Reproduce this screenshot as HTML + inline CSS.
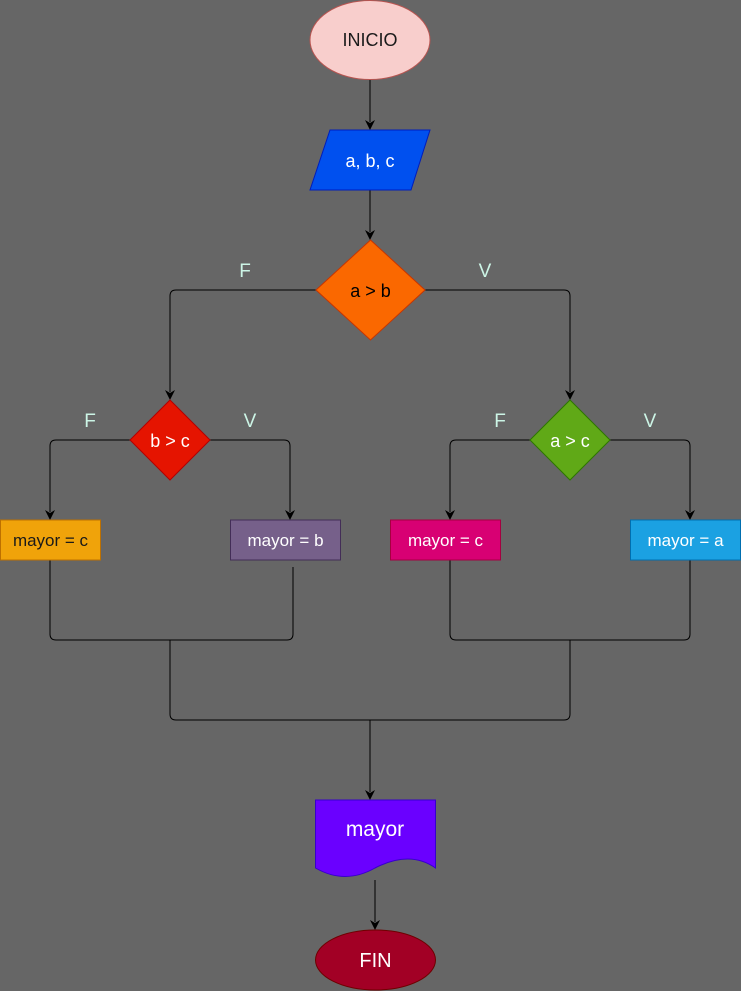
<!DOCTYPE html>
<html><head><meta charset="utf-8"><style>
html,body{margin:0;padding:0;background:#666666;}
svg{display:block;}
text{font-family:"Liberation Sans",Helvetica,Arial,sans-serif;}
</style></head><body>
<svg width="741" height="991" viewBox="0 0 741 991" xmlns="http://www.w3.org/2000/svg">
<rect width="741" height="991" fill="#666666"/>
<g fill="none" stroke="#000" stroke-width="1">
<line x1="370" y1="80" x2="370" y2="122"/>
<line x1="370" y1="190" x2="370" y2="232"/>
<path d="M316,290 H176 Q170,290 170,296 V392"/>
<path d="M425,290 H564 Q570,290 570,296 V392"/>
<path d="M131,440 H56 Q50,440 50,446 V512"/>
<path d="M210,440 H284 Q290,440 290,446 V512"/>
<path d="M531,440 H456 Q450,440 450,446 V512"/>
<path d="M610,440 H684 Q690,440 690,446 V512"/>
<path d="M50,560 V634 Q50,640 56,640 H287 Q293,640 293,634 V567"/>
<path d="M450,560 V634 Q450,640 456,640 H684 Q690,640 690,634 V560"/>
<path d="M170,640 V714 Q170,720 176,720 H564 Q570,720 570,714 V640"/>
<line x1="370" y1="720" x2="370" y2="792"/>
<line x1="375" y1="880" x2="375" y2="922"/>
</g>
<g fill="#000">
<path d="M365,120 L370,130 L375,120 L370,123Z"/>
<path d="M365,230 L370,240 L375,230 L370,233Z"/>
<path d="M165,390 L170,400 L175,390 L170,393Z"/>
<path d="M565,390 L570,400 L575,390 L570,393Z"/>
<path d="M45,510 L50,520 L55,510 L50,513Z"/>
<path d="M285,510 L290,520 L295,510 L290,513Z"/>
<path d="M445,510 L450,520 L455,510 L450,513Z"/>
<path d="M685,510 L690,520 L695,510 L690,513Z"/>
<path d="M365,790 L370,800 L375,790 L370,793Z"/>
<path d="M370,920 L375,930 L380,920 L375,923Z"/>
</g>
<ellipse cx="370" cy="40" rx="60" ry="39.5" fill="#f8cecc" stroke="#b85450"/>
<text x="370" y="46" font-size="18" text-anchor="middle" fill="#1a1a1a">INICIO</text>
<polygon points="330,130 430,130 411,190 310,190" fill="#0050ef" stroke="#001DBC"/>
<text x="370" y="167" font-size="18" text-anchor="middle" fill="#fff">a, b, c</text>
<polygon points="370.5,240 425,290 370.5,340 316,290" fill="#fa6800" stroke="#C73500"/>
<text x="370.5" y="297" font-size="18" text-anchor="middle" fill="#000">a &gt; b</text>
<polygon points="170,400 210,440 170,480 130,440" fill="#e51400" stroke="#B20000"/>
<text x="170" y="447" font-size="18" text-anchor="middle" fill="#fff">b &gt; c</text>
<polygon points="570,400 610,440 570,480 530,440" fill="#60a917" stroke="#2D7600"/>
<text x="570" y="447" font-size="18" text-anchor="middle" fill="#fff">a &gt; c</text>
<rect x="0.5" y="520" width="100" height="40" fill="#f0a30a" stroke="#BD7000"/>
<text x="50.5" y="546" font-size="17" text-anchor="middle" fill="#1a1a1a">mayor = c</text>
<rect x="230.5" y="520" width="110" height="40" fill="#76608a" stroke="#432D57"/>
<text x="285.5" y="546" font-size="17" text-anchor="middle" fill="#fff">mayor = b</text>
<rect x="390.5" y="520" width="110" height="40" fill="#d80073" stroke="#A50040"/>
<text x="445.5" y="546" font-size="17" text-anchor="middle" fill="#fff">mayor = c</text>
<rect x="630.5" y="520" width="110" height="40" fill="#1ba1e2" stroke="#006EAF"/>
<text x="685.5" y="546" font-size="17" text-anchor="middle" fill="#fff">mayor = a</text>
<path d="M315.5,800 H435.5 V868 Q410,850 375,868 Q345,885 315.5,868 Z" fill="#6a00ff" stroke="#3700CC"/>
<text x="375" y="836" font-size="21" text-anchor="middle" fill="#fff">mayor</text>
<ellipse cx="375.5" cy="960" rx="60" ry="30" fill="#a20025" stroke="#6F0000"/>
<text x="375.5" y="967" font-size="20" text-anchor="middle" fill="#fff">FIN</text>
<g font-size="19" fill="#ccf5e6" text-anchor="middle">
<text x="245" y="277">F</text>
<text x="485" y="277">V</text>
<text x="90" y="427">F</text>
<text x="250" y="427">V</text>
<text x="500" y="427">F</text>
<text x="650" y="427">V</text>
</g>
</svg>
</body></html>
